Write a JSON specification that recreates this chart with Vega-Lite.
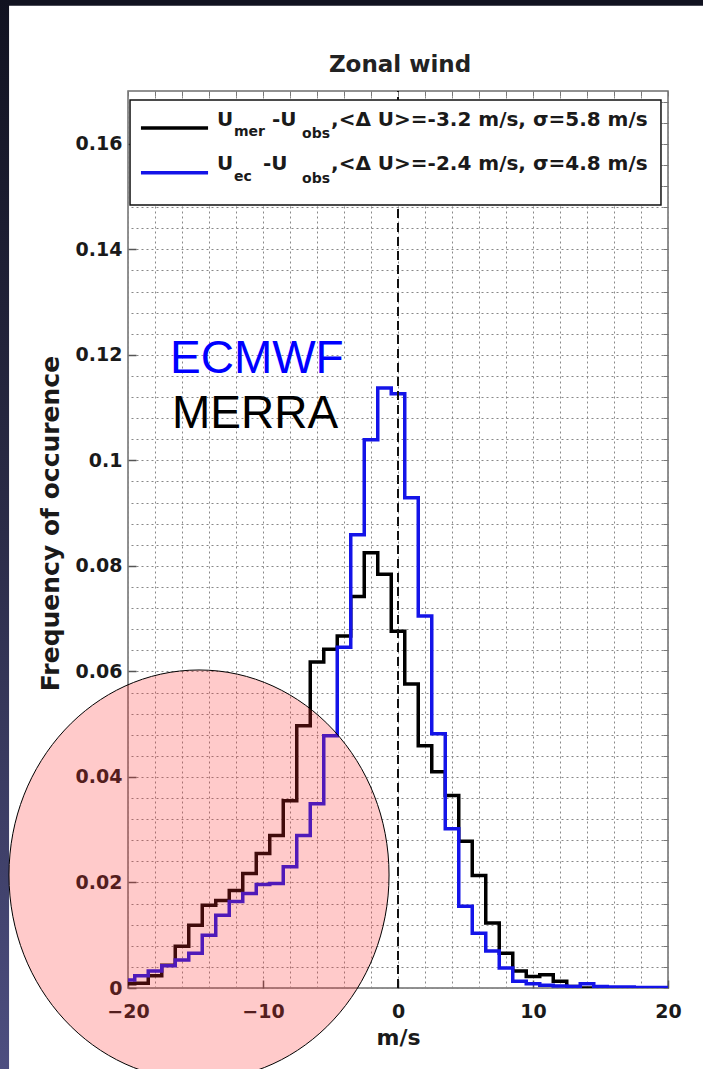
{
  "$schema": "https://vega.github.io/schema/vega-lite/v6.json",
  "width": 540,
  "height": 897,
  "autosize": {"type": "none"},
  "padding": {"left": 128, "top": 91, "right": 35, "bottom": 81},
  "background": "#ffffff",
  "config": {
    "view": {"stroke": "#6e6e6e", "strokeWidth": 1.5},
    "font": "DejaVu Sans"
  },
  "resolve": {"axis": {"x": "independent", "y": "independent"}},
  "datasets": {
    "hist": [
      {"series": "MERRA", "x": -20, "freq": 0.0008},
      {"series": "MERRA", "x": -19.5, "freq": 0.0009},
      {"series": "MERRA", "x": -18.5, "freq": 0.0023},
      {"series": "MERRA", "x": -17.5, "freq": 0.0043},
      {"series": "MERRA", "x": -16.5, "freq": 0.0079},
      {"series": "MERRA", "x": -15.5, "freq": 0.0119},
      {"series": "MERRA", "x": -14.5, "freq": 0.0157},
      {"series": "MERRA", "x": -13.5, "freq": 0.0166},
      {"series": "MERRA", "x": -12.5, "freq": 0.0185},
      {"series": "MERRA", "x": -11.5, "freq": 0.0217},
      {"series": "MERRA", "x": -10.5, "freq": 0.0255},
      {"series": "MERRA", "x": -9.5, "freq": 0.0289},
      {"series": "MERRA", "x": -8.5, "freq": 0.0355},
      {"series": "MERRA", "x": -7.5, "freq": 0.0497},
      {"series": "MERRA", "x": -6.5, "freq": 0.0618},
      {"series": "MERRA", "x": -5.5, "freq": 0.0642},
      {"series": "MERRA", "x": -4.5, "freq": 0.0667},
      {"series": "MERRA", "x": -3.5, "freq": 0.0742},
      {"series": "MERRA", "x": -2.5, "freq": 0.0825},
      {"series": "MERRA", "x": -1.5, "freq": 0.0784},
      {"series": "MERRA", "x": -0.5, "freq": 0.0676},
      {"series": "MERRA", "x": 0.5, "freq": 0.0576},
      {"series": "MERRA", "x": 1.5, "freq": 0.0459},
      {"series": "MERRA", "x": 2.5, "freq": 0.041},
      {"series": "MERRA", "x": 3.5, "freq": 0.0365},
      {"series": "MERRA", "x": 4.5, "freq": 0.0278},
      {"series": "MERRA", "x": 5.5, "freq": 0.0213},
      {"series": "MERRA", "x": 6.5, "freq": 0.0123},
      {"series": "MERRA", "x": 7.5, "freq": 0.0066},
      {"series": "MERRA", "x": 8.5, "freq": 0.0032},
      {"series": "MERRA", "x": 9.5, "freq": 0.0022},
      {"series": "MERRA", "x": 10.5, "freq": 0.0025},
      {"series": "MERRA", "x": 11.5, "freq": 0.0013},
      {"series": "MERRA", "x": 12.5, "freq": 0.0003},
      {"series": "MERRA", "x": 13.5, "freq": 0},
      {"series": "MERRA", "x": 20, "freq": 0},
      {"series": "ECMWF", "x": -20, "freq": 0.0015},
      {"series": "ECMWF", "x": -19.5, "freq": 0.0023},
      {"series": "ECMWF", "x": -18.5, "freq": 0.0032},
      {"series": "ECMWF", "x": -17.5, "freq": 0.0042},
      {"series": "ECMWF", "x": -16.5, "freq": 0.0053},
      {"series": "ECMWF", "x": -15.5, "freq": 0.0066},
      {"series": "ECMWF", "x": -14.5, "freq": 0.01},
      {"series": "ECMWF", "x": -13.5, "freq": 0.0138},
      {"series": "ECMWF", "x": -12.5, "freq": 0.0164},
      {"series": "ECMWF", "x": -11.5, "freq": 0.0179},
      {"series": "ECMWF", "x": -10.5, "freq": 0.0196},
      {"series": "ECMWF", "x": -9.5, "freq": 0.0198},
      {"series": "ECMWF", "x": -8.5, "freq": 0.023},
      {"series": "ECMWF", "x": -7.5, "freq": 0.0289},
      {"series": "ECMWF", "x": -6.5, "freq": 0.0349},
      {"series": "ECMWF", "x": -5.5, "freq": 0.0478},
      {"series": "ECMWF", "x": -4.5, "freq": 0.0646},
      {"series": "ECMWF", "x": -3.5, "freq": 0.0859},
      {"series": "ECMWF", "x": -2.5, "freq": 0.1039},
      {"series": "ECMWF", "x": -1.5, "freq": 0.1137},
      {"series": "ECMWF", "x": -0.5, "freq": 0.1126},
      {"series": "ECMWF", "x": 0.5, "freq": 0.0929},
      {"series": "ECMWF", "x": 1.5, "freq": 0.0705},
      {"series": "ECMWF", "x": 2.5, "freq": 0.0482},
      {"series": "ECMWF", "x": 3.5, "freq": 0.0302},
      {"series": "ECMWF", "x": 4.5, "freq": 0.0155},
      {"series": "ECMWF", "x": 5.5, "freq": 0.0104},
      {"series": "ECMWF", "x": 6.5, "freq": 0.007},
      {"series": "ECMWF", "x": 7.5, "freq": 0.0038},
      {"series": "ECMWF", "x": 8.5, "freq": 0.0013},
      {"series": "ECMWF", "x": 9.5, "freq": 0.0008},
      {"series": "ECMWF", "x": 10.5, "freq": 0.0005},
      {"series": "ECMWF", "x": 11.5, "freq": 0.0004},
      {"series": "ECMWF", "x": 12.5, "freq": 0.0003},
      {"series": "ECMWF", "x": 13.5, "freq": 0.0008},
      {"series": "ECMWF", "x": 14.5, "freq": 0.0003},
      {"series": "ECMWF", "x": 15.5, "freq": 0.0002},
      {"series": "ECMWF", "x": 16.5, "freq": 0.0002},
      {"series": "ECMWF", "x": 17.5, "freq": 0.0001},
      {"series": "ECMWF", "x": 18.5, "freq": 0.0001},
      {"series": "ECMWF", "x": 19.5, "freq": 0.0001},
      {"series": "ECMWF", "x": 20, "freq": 0.0001}
    ]
  },
  "data": {"values": [{}]},
  "layer": [
    {
      "data": {"name": "hist"},
      "transform": [{"filter": "datum.series === 'MERRA'"}],
      "mark": {"type": "line", "interpolate": "step-after", "strokeWidth": 3.5, "color": "#000000", "clip": true, "strokeJoin": "miter"},
      "encoding": {
        "x": {
          "field": "x", "type": "quantitative",
          "scale": {"domain": [-20, 20], "nice": false, "zero": false},
          "axis": {
            "orient": "bottom",
            "values": [-20, -10, 0, 10, 20],
            "format": "d",
            "grid": false,
            "domain": false,
            "ticks": true, "tickSize": -8, "tickColor": "#555555", "tickWidth": 1.5,
            "labelFont": "DejaVu Sans", "labelFontWeight": "bold", "labelFontSize": 19, "labelColor": "#1a1a1a",
            "labelPadding": 22, "labelOverlap": false, "labelFlush": false,
            "title": "m/s", "titleFont": "DejaVu Sans", "titleFontWeight": "bold", "titleFontSize": 22, "titleColor": "#1a1a1a", "titlePadding": 6
          }
        },
        "y": {
          "field": "freq", "type": "quantitative",
          "scale": {"domain": [0, 0.17], "nice": false, "zero": false},
          "axis": {
            "orient": "left",
            "values": [0, 0.02, 0.04, 0.06, 0.08, 0.1, 0.12, 0.14, 0.16],
            "format": "~g",
            "grid": false,
            "domain": false,
            "ticks": true, "tickSize": -8, "tickColor": "#555555", "tickWidth": 1.5,
            "labelFont": "DejaVu Sans", "labelFontWeight": "bold", "labelFontSize": 19, "labelColor": "#1a1a1a",
            "labelPadding": 14, "labelOverlap": false, "labelFlush": false,
            "title": "Frequency of occurence", "titleFont": "DejaVu Sans", "titleFontWeight": "bold", "titleFontSize": 25, "titleColor": "#1a1a1a", "titlePadding": 12, "titleY": 432
          }
        }
      }
    },
    {
      "data": {"name": "hist"},
      "transform": [{"filter": "datum.series === 'ECMWF'"}],
      "mark": {"type": "line", "interpolate": "step-after", "strokeWidth": 3.5, "color": "#1414e8", "clip": true, "strokeJoin": "miter"},
      "encoding": {
        "x": {
          "field": "x", "type": "quantitative",
          "scale": {"domain": [-20, 20], "nice": false, "zero": false},
          "axis": {
            "orient": "top",
            "values": [-20, -18, -16, -14, -12, -10, -8, -6, -4, -2, 0, 2, 4, 6, 8, 10, 12, 14, 16, 18, 20],
            "labels": false,
            "grid": true, "gridColor": "#888888", "gridDash": [2, 3], "gridWidth": 1,
            "domain": false,
            "ticks": true, "tickSize": -5, "tickColor": "#777777",
            "title": null
          }
        },
        "y": {
          "field": "freq", "type": "quantitative",
          "scale": {"domain": [0, 0.17], "nice": false, "zero": false},
          "axis": {
            "orient": "right",
            "values": [0, 0.004, 0.008, 0.012, 0.016, 0.02, 0.024, 0.028, 0.032, 0.036, 0.04, 0.044, 0.048, 0.052, 0.056, 0.06, 0.064, 0.068, 0.072, 0.076, 0.08, 0.084, 0.088, 0.092, 0.096, 0.1, 0.104, 0.108, 0.112, 0.116, 0.12, 0.124, 0.128, 0.132, 0.136, 0.14, 0.144, 0.148, 0.152, 0.156, 0.16, 0.164, 0.168],
            "labels": false,
            "grid": true, "gridColor": "#888888", "gridDash": [2, 3], "gridWidth": 1,
            "domain": false,
            "ticks": true, "tickSize": -5, "tickColor": "#777777",
            "title": null
          }
        }
      }
    },
    {
      "mark": {"type": "rect", "fill": "#111220", "stroke": null},
      "encoding": {
        "x": {"datum": -31, "type": "quantitative", "scale": {"domain": [-20, 20], "nice": false, "zero": false}, "axis": null},
        "x2": {"datum": 24},
        "y": {"datum": 0.1873, "type": "quantitative", "scale": {"domain": [0, 0.17], "nice": false, "zero": false}, "axis": null},
        "y2": {"datum": 0.18616}
      }
    },
    {
      "mark": {
        "type": "rect",
        "stroke": null,
        "fill": {
          "gradient": "linear", "x1": 0, "y1": 0, "x2": 0, "y2": 1,
          "stops": [
            {"offset": 0, "color": "#111220"},
            {"offset": 0.5, "color": "#2b2c48"},
            {"offset": 1, "color": "#4d4e80"}
          ]
        }
      },
      "encoding": {
        "x": {"datum": -31, "type": "quantitative", "scale": {"domain": [-20, 20], "nice": false, "zero": false}, "axis": null},
        "x2": {"datum": -28.81},
        "y": {"datum": 0.1873, "type": "quantitative", "scale": {"domain": [0, 0.17], "nice": false, "zero": false}, "axis": null},
        "y2": {"datum": -0.01536}
      }
    },
    {
      "mark": {"type": "rule", "color": "#111111", "strokeWidth": 2, "strokeDash": [9, 5]},
      "encoding": {
        "x": {"datum": 0, "type": "quantitative", "scale": {"domain": [-20, 20], "nice": false, "zero": false}, "axis": null},
        "y": {"datum": 0, "type": "quantitative", "scale": {"domain": [0, 0.17], "nice": false, "zero": false}, "axis": null},
        "y2": {"datum": 0.17}
      }
    },
    {
      "mark": {"type": "rect", "fill": "#ffffff", "stroke": "#111111", "strokeWidth": 1.5},
      "encoding": {
        "x": {"datum": -19.85, "type": "quantitative", "scale": {"domain": [-20, 20], "nice": false, "zero": false}, "axis": null},
        "x2": {"datum": 19.48},
        "y": {"datum": 0.1683, "type": "quantitative", "scale": {"domain": [0, 0.17], "nice": false, "zero": false}, "axis": null},
        "y2": {"datum": 0.1484}
      }
    },
    {
      "mark": {"type": "rule", "color": "#000000", "strokeWidth": 3.5},
      "encoding": {
        "x": {"datum": -19.04, "type": "quantitative", "scale": {"domain": [-20, 20], "nice": false, "zero": false}, "axis": null},
        "x2": {"datum": -14.07},
        "y": {"datum": 0.163, "type": "quantitative", "scale": {"domain": [0, 0.17], "nice": false, "zero": false}, "axis": null}
      }
    },
    {
      "mark": {"type": "rule", "color": "#1414e8", "strokeWidth": 3.5},
      "encoding": {
        "x": {"datum": -19.04, "type": "quantitative", "scale": {"domain": [-20, 20], "nice": false, "zero": false}, "axis": null},
        "x2": {"datum": -14.07},
        "y": {"datum": 0.1545, "type": "quantitative", "scale": {"domain": [0, 0.17], "nice": false, "zero": false}, "axis": null}
      }
    },
    {
      "mark": {"type": "text", "text": "U", "font": "DejaVu Sans", "fontWeight": "bold", "fontSize": 20, "color": "#1a1a1a", "align": "left", "baseline": "alphabetic"},
      "encoding": {
        "x": {"datum": -13.41, "type": "quantitative", "scale": {"domain": [-20, 20], "nice": false, "zero": false}, "axis": null},
        "y": {"datum": 0.1634, "type": "quantitative", "scale": {"domain": [0, 0.17], "nice": false, "zero": false}, "axis": null}
      }
    },
    {
      "mark": {"type": "text", "text": "mer", "font": "DejaVu Sans", "fontWeight": "bold", "fontSize": 14, "color": "#1a1a1a", "align": "left", "baseline": "alphabetic"},
      "encoding": {
        "x": {"datum": -12.15, "type": "quantitative", "scale": {"domain": [-20, 20], "nice": false, "zero": false}, "axis": null},
        "y": {"datum": 0.1615, "type": "quantitative", "scale": {"domain": [0, 0.17], "nice": false, "zero": false}, "axis": null}
      }
    },
    {
      "mark": {"type": "text", "text": "-U", "font": "DejaVu Sans", "fontWeight": "bold", "fontSize": 20, "color": "#1a1a1a", "align": "left", "baseline": "alphabetic"},
      "encoding": {
        "x": {"datum": -9.33, "type": "quantitative", "scale": {"domain": [-20, 20], "nice": false, "zero": false}, "axis": null},
        "y": {"datum": 0.1634, "type": "quantitative", "scale": {"domain": [0, 0.17], "nice": false, "zero": false}, "axis": null}
      }
    },
    {
      "mark": {"type": "text", "text": "obs", "font": "DejaVu Sans", "fontWeight": "bold", "fontSize": 14, "color": "#1a1a1a", "align": "left", "baseline": "alphabetic"},
      "encoding": {
        "x": {"datum": -7.11, "type": "quantitative", "scale": {"domain": [-20, 20], "nice": false, "zero": false}, "axis": null},
        "y": {"datum": 0.1611, "type": "quantitative", "scale": {"domain": [0, 0.17], "nice": false, "zero": false}, "axis": null}
      }
    },
    {
      "mark": {"type": "text", "text": ",<Δ U>=-3.2 m/s, σ=5.8 m/s", "font": "DejaVu Sans", "fontWeight": "bold", "fontSize": 20, "color": "#1a1a1a", "align": "left", "baseline": "alphabetic"},
      "encoding": {
        "x": {"datum": -4.96, "type": "quantitative", "scale": {"domain": [-20, 20], "nice": false, "zero": false}, "axis": null},
        "y": {"datum": 0.1634, "type": "quantitative", "scale": {"domain": [0, 0.17], "nice": false, "zero": false}, "axis": null}
      }
    },
    {
      "mark": {"type": "text", "text": "U", "font": "DejaVu Sans", "fontWeight": "bold", "fontSize": 20, "color": "#1a1a1a", "align": "left", "baseline": "alphabetic"},
      "encoding": {
        "x": {"datum": -13.41, "type": "quantitative", "scale": {"domain": [-20, 20], "nice": false, "zero": false}, "axis": null},
        "y": {"datum": 0.1551, "type": "quantitative", "scale": {"domain": [0, 0.17], "nice": false, "zero": false}, "axis": null}
      }
    },
    {
      "mark": {"type": "text", "text": "ec", "font": "DejaVu Sans", "fontWeight": "bold", "fontSize": 14, "color": "#1a1a1a", "align": "left", "baseline": "alphabetic"},
      "encoding": {
        "x": {"datum": -12.15, "type": "quantitative", "scale": {"domain": [-20, 20], "nice": false, "zero": false}, "axis": null},
        "y": {"datum": 0.153, "type": "quantitative", "scale": {"domain": [0, 0.17], "nice": false, "zero": false}, "axis": null}
      }
    },
    {
      "mark": {"type": "text", "text": "-U", "font": "DejaVu Sans", "fontWeight": "bold", "fontSize": 20, "color": "#1a1a1a", "align": "left", "baseline": "alphabetic"},
      "encoding": {
        "x": {"datum": -10.0, "type": "quantitative", "scale": {"domain": [-20, 20], "nice": false, "zero": false}, "axis": null},
        "y": {"datum": 0.1551, "type": "quantitative", "scale": {"domain": [0, 0.17], "nice": false, "zero": false}, "axis": null}
      }
    },
    {
      "mark": {"type": "text", "text": "obs", "font": "DejaVu Sans", "fontWeight": "bold", "fontSize": 14, "color": "#1a1a1a", "align": "left", "baseline": "alphabetic"},
      "encoding": {
        "x": {"datum": -7.11, "type": "quantitative", "scale": {"domain": [-20, 20], "nice": false, "zero": false}, "axis": null},
        "y": {"datum": 0.1526, "type": "quantitative", "scale": {"domain": [0, 0.17], "nice": false, "zero": false}, "axis": null}
      }
    },
    {
      "mark": {"type": "text", "text": ",<Δ U>=-2.4 m/s, σ=4.8 m/s", "font": "DejaVu Sans", "fontWeight": "bold", "fontSize": 20, "color": "#1a1a1a", "align": "left", "baseline": "alphabetic"},
      "encoding": {
        "x": {"datum": -4.96, "type": "quantitative", "scale": {"domain": [-20, 20], "nice": false, "zero": false}, "axis": null},
        "y": {"datum": 0.1551, "type": "quantitative", "scale": {"domain": [0, 0.17], "nice": false, "zero": false}, "axis": null}
      }
    },
    {
      "mark": {"type": "text", "text": "Zonal wind", "font": "DejaVu Sans", "fontWeight": "bold", "fontSize": 23, "color": "#222222", "align": "center", "baseline": "alphabetic"},
      "encoding": {
        "x": {"datum": 0.15, "type": "quantitative", "scale": {"domain": [-20, 20], "nice": false, "zero": false}, "axis": null},
        "y": {"datum": 0.17365, "type": "quantitative", "scale": {"domain": [0, 0.17], "nice": false, "zero": false}, "axis": null}
      }
    },
    {
      "mark": {"type": "text", "text": "ECMWF", "font": "Liberation Sans", "fontSize": 46, "color": "#0000ff", "align": "left", "baseline": "alphabetic"},
      "encoding": {
        "x": {"datum": -16.89, "type": "quantitative", "scale": {"domain": [-20, 20], "nice": false, "zero": false}, "axis": null},
        "y": {"datum": 0.1166, "type": "quantitative", "scale": {"domain": [0, 0.17], "nice": false, "zero": false}, "axis": null}
      }
    },
    {
      "mark": {"type": "text", "text": "MERRA", "font": "Liberation Sans", "fontSize": 46, "color": "#000000", "align": "left", "baseline": "alphabetic"},
      "encoding": {
        "x": {"datum": -16.74, "type": "quantitative", "scale": {"domain": [-20, 20], "nice": false, "zero": false}, "axis": null},
        "y": {"datum": 0.1062, "type": "quantitative", "scale": {"domain": [0, 0.17], "nice": false, "zero": false}, "axis": null}
      }
    },
    {
      "mark": {
        "type": "point",
        "shape": "M -0.927 0 A 0.927 1 0 1 0 0.927 0 A 0.927 1 0 1 0 -0.927 0 Z",
        "size": 168100,
        "filled": true,
        "fill": "#ff2a2a",
        "fillOpacity": 0.25,
        "stroke": "#000000",
        "strokeOpacity": 1,
        "strokeWidth": 1,
        "opacity": 1
      },
      "encoding": {
        "x": {"datum": -14.74, "type": "quantitative", "scale": {"domain": [-20, 20], "nice": false, "zero": false}, "axis": null},
        "y": {"datum": 0.02142, "type": "quantitative", "scale": {"domain": [0, 0.17], "nice": false, "zero": false}, "axis": null}
      }
    }
  ]
}
